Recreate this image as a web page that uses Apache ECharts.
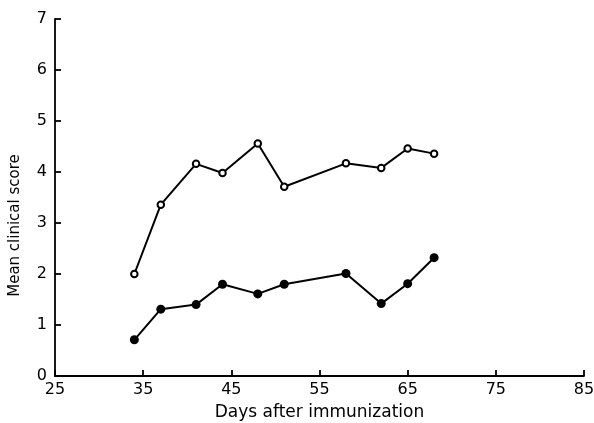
<!DOCTYPE html>
<html>
<head>
<meta charset="utf-8">
<script src="https://cdn.jsdelivr.net/npm/echarts@6/dist/echarts.min.js"></script>
<style>
  html, body { margin: 0; padding: 0; background: #fff; }
  #chart { width: 594px; height: 423px; }
</style>
</head>
<body>
<div id="chart"></div>
<script>
var chart = echarts.init(document.getElementById('chart'));

// days after immunization
var days = [34, 37, 41, 44, 48, 51, 58, 62, 65, 68];
// open circles
var openScores = [2.0, 3.36, 4.16, 3.98, 4.56, 3.71, 4.17, 4.08, 4.46, 4.36];
// filled circles
var filledScores = [0.71, 1.31, 1.40, 1.80, 1.61, 1.80, 2.01, 1.42, 1.81, 2.32];
// x tick labels
var xTicks = [25, 35, 45, 55, 65, 75, 85];

function pairs(xs, ys) {
    var out = [];
    for (var i = 0; i < xs.length; i++) out.push([xs[i], ys[i]]);
    return out;
}

var font = 'DejaVu Sans';

option = {
    animation: false,
    backgroundColor: '#fff',
    grid: {
        left: 55,
        right: 10,
        top: 19,
        bottom: 47,
        containLabel: false,
        outerBoundsMode: 'none'
    },
    xAxis: {
        type: 'value',
        min: 25,
        max: 85,
        name: 'Days after immunization',
        nameLocation: 'middle',
        nameGap: 28,
        nameTextStyle: { color: '#000', fontFamily: font, fontSize: 17 },
        splitLine: { show: false },
        axisLine: { lineStyle: { color: '#000', width: 1.8 } },
        axisTick: {
            inside: true,
            length: 6,
            customValues: xTicks,
            lineStyle: { color: '#000', width: 1.8 }
        },
        axisLabel: {
            customValues: xTicks,
            margin: 6,
            color: '#000',
            fontFamily: font,
            fontSize: 16
        }
    },
    yAxis: {
        type: 'value',
        min: 0,
        max: 7,
        interval: 1,
        name: 'Mean clinical score',
        nameLocation: 'middle',
        nameGap: 32,
        nameRotate: 90,
        nameTextStyle: {
            color: '#000',
            fontFamily: font,
            fontSize: 15,
            padding: [0, 56, 0, 0]
        },
        splitLine: { show: false },
        axisLine: { show: true, lineStyle: { color: '#000', width: 1.8 } },
        axisTick: {
            show: true,
            inside: true,
            length: 6,
            lineStyle: { color: '#000', width: 1.8 }
        },
        axisLabel: {
            margin: 8,
            color: '#000',
            fontFamily: font,
            fontSize: 16
        }
    },
    series: [{
        type: 'line',
        data: pairs(days, openScores),
        symbol: 'circle',
        symbolSize: 6.5,
        lineStyle: { color: '#000', width: 2 },
        itemStyle: { color: '#fff', borderColor: '#000', borderWidth: 2 },
        z: 3
    }, {
        type: 'line',
        data: pairs(days, filledScores),
        symbol: 'circle',
        symbolSize: 9,
        lineStyle: { color: '#000', width: 2 },
        itemStyle: { color: '#000', borderColor: '#000', borderWidth: 0 },
        z: 3
    }]
};

chart.setOption(option);
</script>
</body>
</html>
